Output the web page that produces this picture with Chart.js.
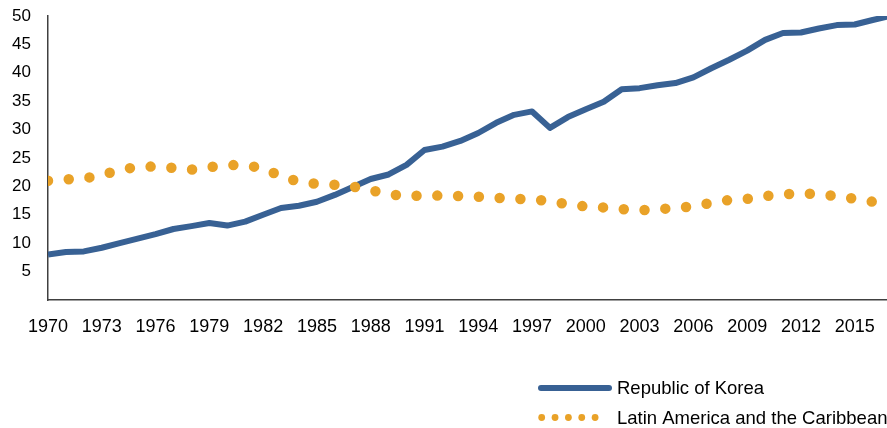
<!DOCTYPE html>
<html>
<head>
<meta charset="utf-8">
<script src="https://cdn.jsdelivr.net/npm/chart.js@4/dist/chart.umd.min.js"></script>
<style>
  html, body { margin: 0; padding: 0; background: #fff; }
  #wrap { width: 887px; height: 428px; position: relative; }
</style>
</head>
<body>
<div id="wrap"><canvas id="c" width="887" height="428"></canvas></div>
<script>
const years = [1970,1971,1972,1973,1974,1975,1976,1977,1978,1979,1980,1981,1982,1983,1984,1985,1986,1987,1988,1989,1990,1991,1992,1993,1994,1995,1996,1997,1998,1999,2000,2001,2002,2003,2004,2005,2006,2007,2008,2009,2010,2011,2012,2013,2014,2015,2016,2017];
const korea = [8.0,8.45,8.55,9.2,10.0,10.8,11.6,12.5,13.0,13.55,13.1,13.8,15.0,16.2,16.6,17.3,18.5,19.9,21.3,22.1,23.8,26.4,27.0,28.0,29.4,31.2,32.6,33.2,30.3,32.2,33.6,34.9,37.1,37.3,37.8,38.2,39.2,40.8,42.3,43.9,45.8,47.0,47.1,47.8,48.4,48.5,49.3,50.0];
const latam = [21.0,21.25,21.4,22.0,22.9,23.45,23.5,23.25,22.95,23.4,23.75,23.75,23.2,21.8,20.8,20.45,20.3,20.0,19.3,18.7,18.2,18.45,18.35,18.3,18.2,18.0,17.8,17.75,17.4,16.85,16.45,16.3,16.0,15.8,16.0,16.2,16.5,17.1,17.6,17.8,18.3,18.6,18.8,18.6,18.3,17.8,17.3,17.0];
const seriesNames = ["Republic of Korea", "Latin America and the Caribbean"];
const xTickYears = [1970,1973,1976,1979,1982,1985,1988,1991,1994,1997,2000,2003,2006,2009,2012,2015];
const yTickValues = [5,10,15,20,25,30,35,40,45,50];

const BLUE = 'rgb(56,97,148)';
const ORANGE = 'rgb(233,162,40)';
const FONT = '"Liberation Sans", Arial, sans-serif';

const legendPlugin = {
  id: 'customLegend',
  afterDraw(chart) {
    const ctx = chart.ctx;
    const ds = chart.data.datasets;
    ctx.save();
    ctx.strokeStyle = ds[0].borderColor;
    ctx.lineWidth = 6;
    ctx.lineCap = 'round';
    ctx.beginPath();
    ctx.moveTo(541, 388);
    ctx.lineTo(609, 388);
    ctx.stroke();
    ctx.fillStyle = ds[1].borderColor;
    for (let i = 0; i < 5; i++) {
      ctx.beginPath();
      ctx.arc(541.7 + i * 13.35, 417.5, 3.4, 0, Math.PI * 2);
      ctx.fill();
    }
    ctx.fillStyle = '#000';
    ctx.font = '18.5px ' + FONT;
    ctx.textBaseline = 'alphabetic';
    ctx.textAlign = 'left';
    ctx.fillText(ds[0].label, 617, 394);
    ctx.fillText(ds[1].label, 617, 424);
    ctx.restore();
  }
};

new Chart(document.getElementById('c'), {
  type: 'line',
  data: {
    datasets: [
      {
        label: seriesNames[0],
        data: years.map((y, i) => ({x: y, y: korea[i]})),
        borderColor: BLUE,
        backgroundColor: BLUE,
        borderWidth: 6,
        borderJoinStyle: 'round',
        borderCapStyle: 'butt',
        pointRadius: 0,
        tension: 0,
        order: 1
      },
      {
        label: seriesNames[1],
        data: years.map((y, i) => ({x: y, y: latam[i]})),
        borderColor: ORANGE,
        backgroundColor: ORANGE,
        borderWidth: 10.5,
        borderDash: [0, 20.8],
        borderCapStyle: 'round',
        borderJoinStyle: 'round',
        pointRadius: 0,
        tension: 0,
        order: 0
      }
    ]
  },
  options: {
    responsive: false,
    animation: false,
    devicePixelRatio: 1,
    layout: { autoPadding: false, padding: { top: 16, left: 11, right: 0, bottom: 78 } },
    plugins: { legend: { display: false }, tooltip: { enabled: false } },
    scales: {
      x: {
        type: 'linear',
        min: 1970,
        max: 2016.8,
        afterBuildTicks: s => { s.ticks = xTickYears.map(v => ({value: v})); },
        afterFit: s => { s.height = 50; s.paddingLeft = 0; s.paddingRight = 0; },
        ticks: {
          autoSkip: false,
          maxRotation: 0,
          padding: 16,
          color: '#000',
          font: { family: FONT, size: 18 },
          callback: v => String(v)
        },
        grid: { display: false, drawTicks: false },
        border: { display: true, color: '#404040', width: 1.5 }
      },
      y: {
        min: 0,
        max: 50,
        afterBuildTicks: s => { s.ticks = yTickValues.map(v => ({value: v})); },
        afterFit: s => { s.width = 37; s.paddingTop = 0; s.paddingBottom = 0; },
        ticks: {
          padding: 17,
          color: '#000',
          font: { family: FONT, size: 17 },
          callback: v => String(v)
        },
        grid: { display: false, drawTicks: false },
        border: { display: true, color: '#404040', width: 1.5 }
      }
    }
  },
  plugins: [legendPlugin]
});
</script>
</body>
</html>
